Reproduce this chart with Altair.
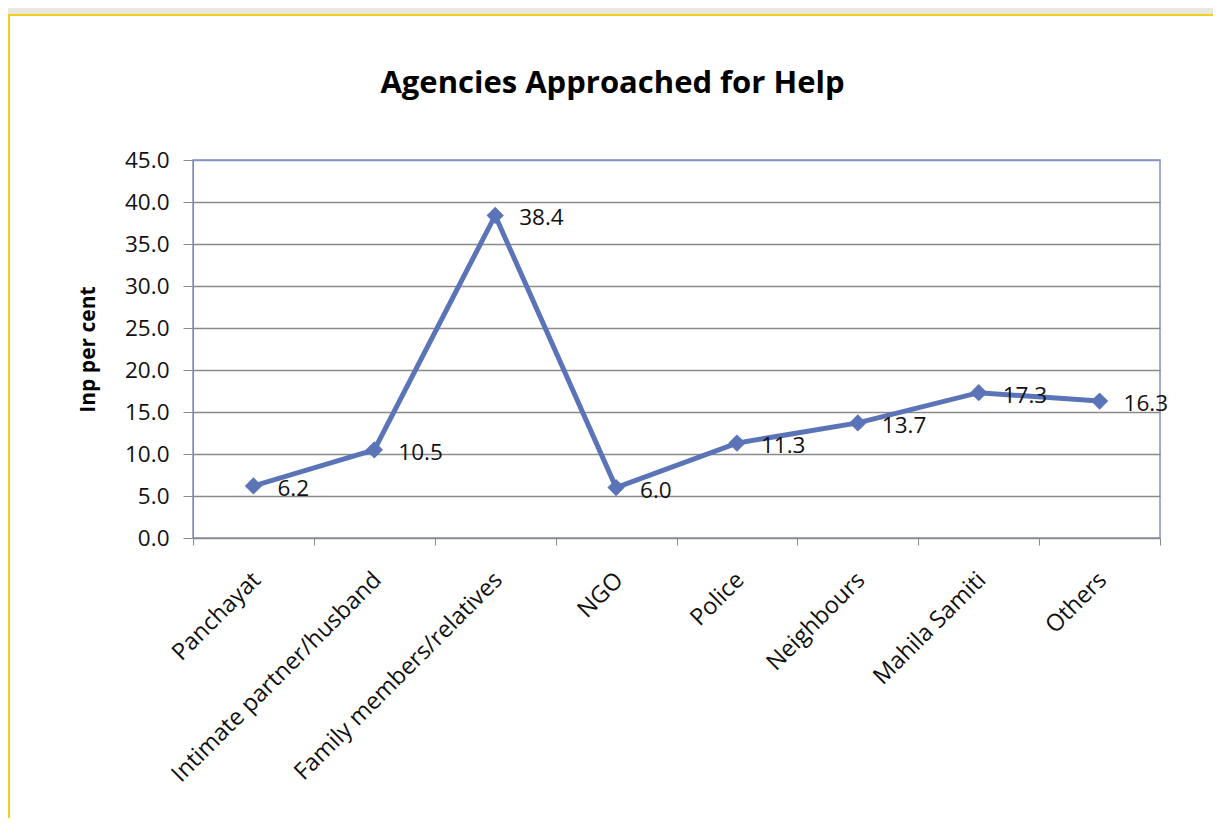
import altair as alt
import pandas as pd

categories = ["Panchayat", "Intimate partner/husband", "Family members/relatives",
              "NGO", "Police", "Neighbours", "Mahila Samiti", "Others"]
values = [6.2, 10.5, 38.4, 6.0, 11.3, 13.7, 17.3, 16.3]
y_ticks = [0, 5, 10, 15, 20, 25, 30, 35, 40, 45]

df = pd.DataFrame({"agency": categories, "pct": values})

W, H = 967, 378
PAD = {"left": 185, "top": 152, "right": 53, "bottom": 280}
LINE = "#5b74b8"
FONT = "Open Sans"

x_enc = alt.X("agency:N", sort=categories,
              scale=alt.Scale(type="band", paddingInner=0, paddingOuter=0),
              axis=alt.Axis(title=None, labelAngle=-45, labelAlign="right",
                            labelBaseline="middle", labelPadding=31, labelOffset=3,
                            tickBand="extent", tickSize=7, tickColor="#8a8a8a",
                            domainColor="#8a8a8a", labelFont=FONT, labelFontSize=23.5,
                            labelColor="#111111", labelOverlap=False, labelLimit=400,
                            grid=False))
y_enc = alt.Y("pct:Q", scale=alt.Scale(domain=[0, 45], nice=False),
              axis=alt.Axis(title="Inp per cent", values=y_ticks, format=".1f",
                            tickSize=10, tickColor="#8a8a8a", domainColor="#8a8a8a",
                            labelPadding=14, labelFont=FONT, labelFontSize=22.5,
                            labelColor="#111111",
                            gridColor=alt.condition(alt.datum.value == 45,
                                                    alt.value("#8193c8"),
                                                    alt.value("#8a8a8a")),
                            gridWidth=1.5,
                            titleFont=FONT, titleFontSize=21, titleFontWeight="bold",
                            titleColor="#000000", titleAngle=-90, titleAlign="center",
                            titleBaseline="middle", titleX=-105, titleY=H / 2))

frame_df = pd.DataFrame({"k": [0]})
frame = alt.Chart(frame_df).mark_rect(fillOpacity=0, stroke="#f0cf1f", strokeWidth=2).encode(
    x=alt.value(-184), x2=alt.value(1100), y=alt.value(-145), y2=alt.value(900))
strip = alt.Chart(frame_df).mark_rect(fill="#e8e8e0").encode(
    x=alt.value(-185), x2=alt.value(1100), y=alt.value(-152), y2=alt.value(-146))

base = alt.Chart(df).encode(x=x_enc, y=y_enc)
line = base.mark_line(color=LINE, strokeWidth=5)
pts = base.mark_point(shape="diamond", filled=True, size=300, color=LINE, opacity=1)
labels = base.mark_text(align="left", baseline="middle", dx=24, dy=3,
                        font=FONT, fontSize=22.5, color="#111111").encode(
    text=alt.Text("pct:Q", format=".1f"))

chart = alt.layer(strip, frame, line, pts, labels).properties(
    width=W, height=H,
    autosize=alt.AutoSizeParams(type="none"),
    padding=PAD,
    background="white",
    title=alt.TitleParams("Agencies Approached for Help", font=FONT, fontSize=31,
                          fontWeight="bold", color="#000000", anchor="middle",
                          dx=-64, offset=-92),
).configure_view(stroke="#8193c8", strokeWidth=1.5)

chart.save("out.html", embed_options={"renderer": "svg", "actions": False})
